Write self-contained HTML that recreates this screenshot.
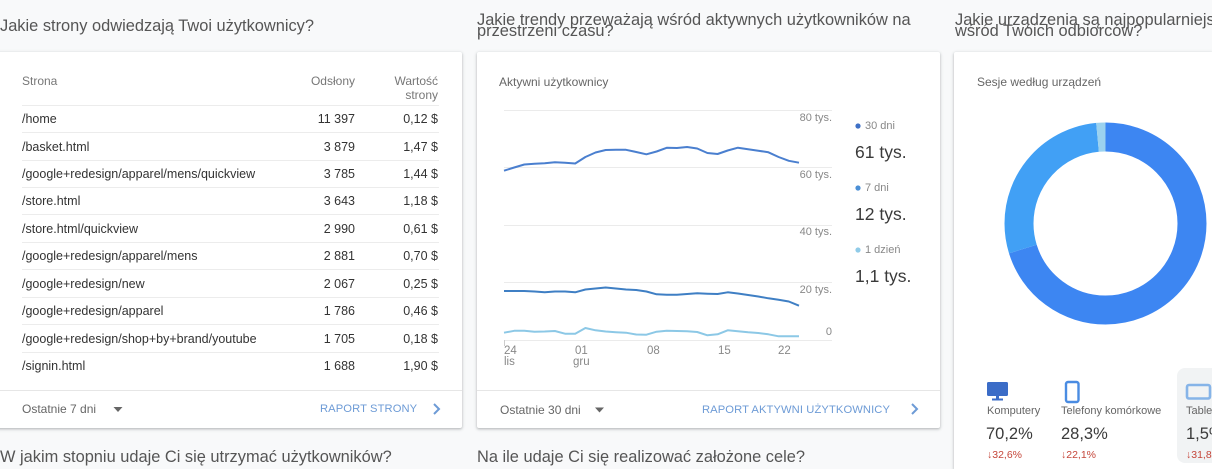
<!DOCTYPE html>
<html style="width:1212px;height:469px;overflow:hidden"><head><meta charset="utf-8">
<style>
*{margin:0;padding:0;box-sizing:border-box}
html,body{overflow:hidden}
body{width:1212px;height:469px;overflow:hidden;background:#f8f9fa;font-family:"Liberation Sans",Arial,sans-serif;position:relative}
.a{position:absolute;white-space:nowrap}
.card{position:absolute;background:#fff;border-radius:2px;box-shadow:0 1px 2px rgba(60,64,67,.28),0 1px 3px 1px rgba(60,64,67,.10)}
.t{font-size:16.4px;color:#555;line-height:20px}
.hd{font-size:12px;color:#777;line-height:14px}
.r{font-size:12.5px;color:#333;line-height:16px}
.rr{text-align:right}
.ln{position:absolute;height:1px;background:#ececec}
.ft{font-size:12px;color:#666;line-height:14px}
.lk{font-size:11.2px;color:#6d9bd6;line-height:14px;letter-spacing:0.1px}
.ax{font-size:11px;color:#888;line-height:12px}
.lg{font-size:11px;color:#888;line-height:12px}
.lv{font-size:17.5px;color:#3a3a3a;line-height:20px}
.dl{font-size:11px;color:#666;line-height:12px}
.dv{font-size:16.5px;color:#3a3a3a;line-height:20px}
.dd{font-size:10.5px;color:#c5463a;line-height:12px}
</style></head><body>

<!-- Titles -->
<div class="a t" style="left:0;top:16px">Jakie strony odwiedzają Twoi użytkownicy?</div>
<div class="a t" style="left:477px;top:10px">Jakie trendy przeważają wśród aktywnych użytkowników na</div>
<div class="a t" style="left:477px;top:21px">przestrzeni czasu?</div>
<div class="a t" style="left:955px;top:10px">Jakie urządzenia są najpopularniejsze</div>
<div class="a t" style="left:955px;top:21px">wśród Twoich odbiorców?</div>
<div class="a t" style="left:0;top:447px">W jakim stopniu udaje Ci się utrzymać użytkowników?</div>
<div class="a t" style="left:477px;top:447px">Na ile udaje Ci się realizować założone cele?</div>

<!-- Card 1 -->
<div class="card" style="left:-3px;top:52px;width:465px;height:376px"></div>
<div class="ln" style="left:-3px;top:390px;width:465px;background:#e6e6e6"></div>
<div class="a hd" style="left:22px;top:74px">Strona</div>
<div class="a hd rr" style="right:857px;top:74px">Odsłony</div>
<div class="a hd rr" style="right:774px;top:74px">Wartość</div>
<div class="a hd rr" style="right:774px;top:88px">strony</div>
<div class="ln" style="left:22px;top:105px;width:417px"></div>
<div class="ln" style="left:22px;top:132px;width:417px"></div>
<div class="ln" style="left:22px;top:160px;width:417px"></div>
<div class="ln" style="left:22px;top:187px;width:417px"></div>
<div class="ln" style="left:22px;top:214px;width:417px"></div>
<div class="ln" style="left:22px;top:242px;width:417px"></div>
<div class="ln" style="left:22px;top:269px;width:417px"></div>
<div class="ln" style="left:22px;top:297px;width:417px"></div>
<div class="ln" style="left:22px;top:324px;width:417px"></div>
<div class="ln" style="left:22px;top:352px;width:417px"></div>

<div class="a r" style="left:22px;top:111px">/home</div>
<div class="a r rr" style="right:857px;top:111px">11 397</div>
<div class="a r rr" style="right:774px;top:111px">0,12 $</div>

<div class="a r" style="left:22px;top:139px">/basket.html</div>
<div class="a r rr" style="right:857px;top:139px">3 879</div>
<div class="a r rr" style="right:774px;top:139px">1,47 $</div>

<div class="a r" style="left:22px;top:166px">/google+redesign/apparel/mens/quickview</div>
<div class="a r rr" style="right:857px;top:166px">3 785</div>
<div class="a r rr" style="right:774px;top:166px">1,44 $</div>

<div class="a r" style="left:22px;top:193px">/store.html</div>
<div class="a r rr" style="right:857px;top:193px">3 643</div>
<div class="a r rr" style="right:774px;top:193px">1,18 $</div>

<div class="a r" style="left:22px;top:221px">/store.html/quickview</div>
<div class="a r rr" style="right:857px;top:221px">2 990</div>
<div class="a r rr" style="right:774px;top:221px">0,61 $</div>

<div class="a r" style="left:22px;top:248px">/google+redesign/apparel/mens</div>
<div class="a r rr" style="right:857px;top:248px">2 881</div>
<div class="a r rr" style="right:774px;top:248px">0,70 $</div>

<div class="a r" style="left:22px;top:276px">/google+redesign/new</div>
<div class="a r rr" style="right:857px;top:276px">2 067</div>
<div class="a r rr" style="right:774px;top:276px">0,25 $</div>

<div class="a r" style="left:22px;top:303px">/google+redesign/apparel</div>
<div class="a r rr" style="right:857px;top:303px">1 786</div>
<div class="a r rr" style="right:774px;top:303px">0,46 $</div>

<div class="a r" style="left:22px;top:331px">/google+redesign/shop+by+brand/youtube</div>
<div class="a r rr" style="right:857px;top:331px">1 705</div>
<div class="a r rr" style="right:774px;top:331px">0,18 $</div>

<div class="a r" style="left:22px;top:358px">/signin.html</div>
<div class="a r rr" style="right:857px;top:358px">1 688</div>
<div class="a r rr" style="right:774px;top:358px">1,90 $</div>

<div class="a ft" style="left:22px;top:402px">Ostatnie 7 dni</div>
<div class="a lk" style="left:320px;top:402px">RAPORT STRONY</div>

<!-- Card 2 -->
<div class="card" style="left:477px;top:52px;width:463px;height:376px"></div>
<div class="ln" style="left:477px;top:390px;width:463px;background:#e6e6e6"></div>
<div class="a ft" style="left:499px;top:75px">Aktywni użytkownicy</div>
<div class="a ax" style="right:380px;top:112px">80 tys.</div>
<div class="a ax" style="right:380px;top:169px">60 tys.</div>
<div class="a ax" style="right:380px;top:226px">40 tys.</div>
<div class="a ax" style="right:380px;top:284px">20 tys.</div>
<div class="a ax" style="right:380px;top:326px">0</div>
<div class="a ax" style="left:504px;top:345px;font-size:11.5px">24</div>
<div class="a ax" style="left:504px;top:356px;font-size:11.5px">lis</div>
<div class="a ax" style="left:575px;top:345px;font-size:11.5px">01</div>
<div class="a ax" style="left:573px;top:356px;font-size:11.5px">gru</div>
<div class="a ax" style="left:647px;top:345px;font-size:11.5px">08</div>
<div class="a ax" style="left:718px;top:345px;font-size:11.5px">15</div>
<div class="a ax" style="left:778px;top:345px;font-size:11.5px">22</div>

<div class="a lg" style="left:865px;top:120px">30 dni</div>
<div class="a lv" style="left:855px;top:142px">61 tys.</div>
<div class="a lg" style="left:865px;top:182px">7 dni</div>
<div class="a lv" style="left:855px;top:204px">12 tys.</div>
<div class="a lg" style="left:865px;top:244px">1 dzień</div>
<div class="a lv" style="left:855px;top:266px">1,1 tys.</div>

<div class="a ft" style="left:500px;top:403px">Ostatnie 30 dni</div>
<div class="a lk" style="left:702px;top:403px">RAPORT AKTYWNI UŻYTKOWNICY</div>

<!-- Card 3 -->
<div class="card" style="left:954px;top:52px;width:258px;height:417px;border-radius:2px 0 0 0"></div>
<div class="a ft" style="left:977px;top:75px">Sesje według urządzeń</div>
<div class="a" style="left:1177px;top:368px;width:35px;height:95px;background:#f1f3f4;border-radius:8px 0 0 8px"></div>

<div class="a dl" style="left:987px;top:405px">Komputery</div>
<div class="a dv" style="left:986px;top:424px">70,2%</div>
<div class="a dd" style="left:987px;top:449px">↓32,6%</div>
<div class="a dl" style="left:1061px;top:405px">Telefony komórkowe</div>
<div class="a dv" style="left:1061px;top:424px">28,3%</div>
<div class="a dd" style="left:1061px;top:449px">↓22,1%</div>
<div class="a dl" style="left:1186px;top:405px;width:26px;overflow:hidden">Tablety</div>
<div class="a dv" style="left:1186px;top:424px;width:26px;overflow:hidden">1,5%</div>
<div class="a dd" style="left:1186px;top:449px;width:26px;overflow:hidden">↓31,8%</div>

<svg class="a" style="left:0;top:0" width="1212" height="469" viewBox="0 0 1212 469">
  <path d="M113.5 407 L122.5 407 L118 412 Z" fill="#666"/>
  <path d="M595 407.5 L604 407.5 L599.5 412.5 Z" fill="#666"/>
  <path d="M434 404 L439 409 L434 414" fill="none" stroke="#6d9bd6" stroke-width="2"/>
  <path d="M912 404 L917 409 L912 414" fill="none" stroke="#6d9bd6" stroke-width="2"/>

  <g stroke="#ebebeb" stroke-width="1">
    <line x1="504" y1="110.5" x2="832" y2="110.5"/>
    <line x1="504" y1="167.5" x2="832" y2="167.5"/>
    <line x1="504" y1="225.5" x2="832" y2="225.5"/>
    <line x1="504" y1="282.5" x2="832" y2="282.5"/>
    <line x1="504" y1="340.5" x2="832" y2="340.5"/>
  </g>
  <line x1="504.5" y1="340" x2="504.5" y2="346" stroke="#ccc"/>

  <polyline fill="none" stroke="#4a7fcf" stroke-width="2" stroke-linejoin="round" points="504,170.7 514.2,167.5 524.3,164.5 534.5,163.8 544.7,163.3 554.9,162.3 565,162.8 575.2,163.5 585.4,157 595.5,152.5 605.7,150 615.9,149.7 626,149.8 636.2,152 646.4,154.3 656.6,151.5 666.7,147.8 676.9,148 687.1,147 697.2,148.5 707.4,153 717.6,154 727.7,150.5 737.9,147.7 748.1,149.3 758.3,150.7 768.4,152.3 778.6,157 788.8,160.8 799,162.7"/>
  <polyline fill="none" stroke="#3f7fc4" stroke-width="2" stroke-linejoin="round" points="504,291 514.2,291 524.3,291 534.5,291.5 544.7,292.3 554.9,291.5 565,291.5 575.2,292.3 585.4,289.5 595.5,288.5 605.7,287.5 615.9,288.5 626,289.5 636.2,290 646.4,291.5 656.6,294.3 666.7,294.7 676.9,294.7 687.1,294 697.2,293.3 707.4,293.7 717.6,294 727.7,292.3 737.9,293.5 748.1,295 758.3,296.5 768.4,298.3 778.6,299.8 788.8,301.5 799,305.7"/>
  <polyline fill="none" stroke="#8cc8e6" stroke-width="2" stroke-linejoin="round" points="504,332.7 514.2,330.8 524.3,330.7 534.5,331.7 544.7,331.5 554.9,331 565,333.7 575.2,333.7 585.4,328 595.5,330.3 605.7,331.5 615.9,332.2 626,332.7 636.2,334.5 646.4,334.7 656.6,331.7 666.7,330.7 676.9,331 687.1,331.3 697.2,332 707.4,335.3 717.6,334.3 727.7,330.3 737.9,331.3 748.1,332.3 758.3,333 768.4,334.3 778.6,336.3 788.8,336.3 799,336.3"/>

  <circle cx="858" cy="126" r="2.6" fill="#3e70c6"/>
  <circle cx="858" cy="188" r="2.6" fill="#4b8fd6"/>
  <circle cx="858" cy="250" r="2.6" fill="#90cbe8"/>

  <g transform="rotate(-90 1105.5 223.5)" fill="none" stroke-width="29">
    <circle cx="1105.5" cy="223.5" r="86.5" stroke="#3d86f2" stroke-dasharray="381.5 543.5"/>
    <circle cx="1105.5" cy="223.5" r="86.5" stroke="#41a0f5" stroke-dasharray="0 381.5 153.8 543.5"/>
    <circle cx="1105.5" cy="223.5" r="86.5" stroke="#9bd2ef" stroke-dasharray="0 535.3 8.2 543.5"/>
  </g>

  <rect x="987" y="382" width="21" height="14" rx="1.5" fill="#3b6cc7"/>
  <rect x="996" y="396" width="3" height="3" fill="#3b6cc7"/>
  <rect x="992" y="398.5" width="11" height="2" fill="#3b6cc7"/>
  <rect x="1066" y="382" width="12.5" height="20" rx="2" fill="none" stroke="#4a8ce2" stroke-width="2.4"/>
  <rect x="1187" y="385" width="23" height="13.5" rx="2" fill="none" stroke="#86b4e8" stroke-width="2.6"/>
</svg>

</body></html>
